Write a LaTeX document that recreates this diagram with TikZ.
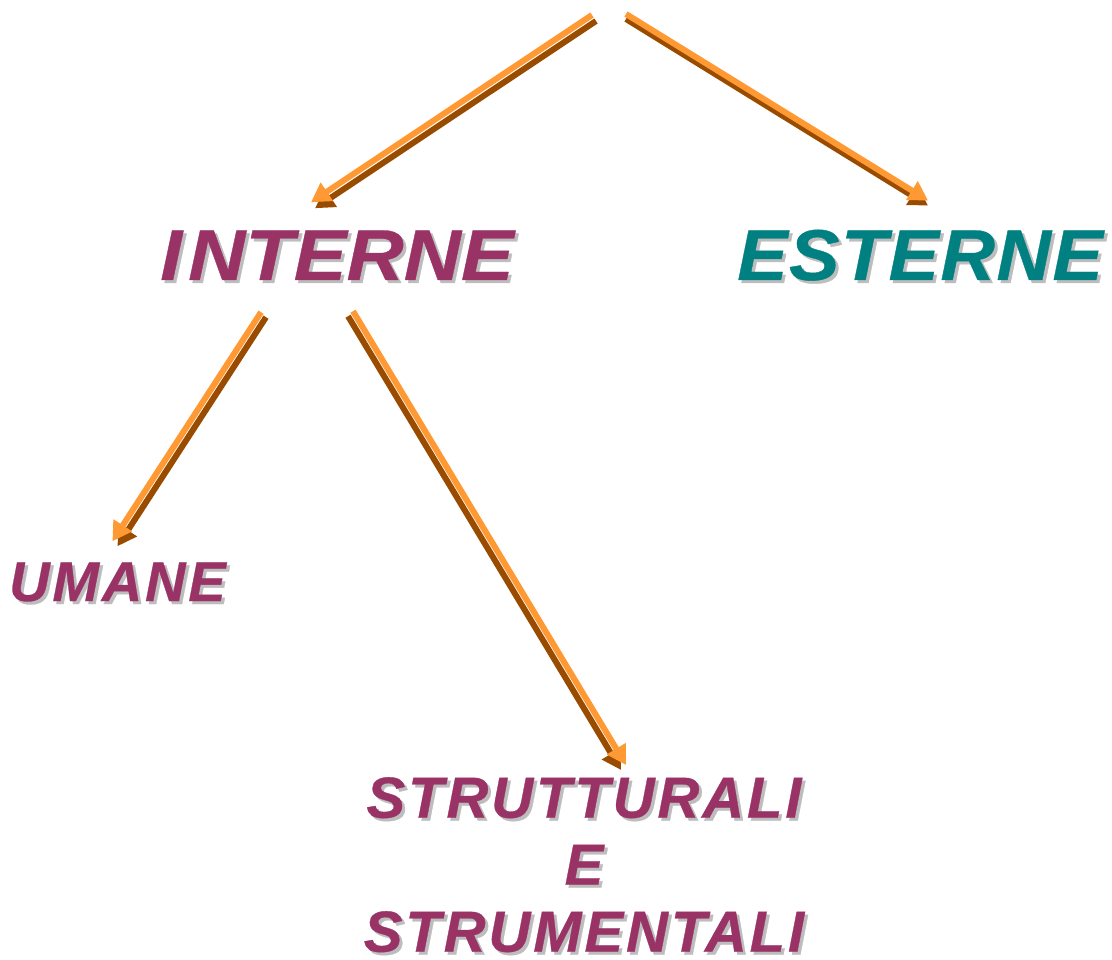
\documentclass[tikz,border=0pt]{standalone}
\usepackage{fontspec}
\setmainfont{Liberation Sans}
\newfontfamily\labelfont[LetterSpace=5, FakeBold=0.5]{Liberation Sans}
\newfontfamily\midlabelfont[FakeStretch=1.05, LetterSpace=2, FakeBold=0.5]{Liberation Sans}
\newfontfamily\widelabelfont[FakeStretch=1.1, FakeBold=0.5]{Liberation Sans}
\usetikzlibrary{calc,arrows.meta}
\definecolor{wine}{HTML}{993366}
\definecolor{petrol}{HTML}{008080}
\definecolor{tangerine}{HTML}{FF9933}
\definecolor{rust}{HTML}{994C00}
\definecolor{ghostgrey}{HTML}{BDBDBD}
\tikzset{
	lbl/.style 2 args={inner sep=0pt, align=center, font=#1\bfseries\itshape\fontsize{#2}{67}\selectfont},
	ray/.style={line width=6pt, draw=tangerine, -{Triangle[length=19pt,width=21pt]}}
}
\def\shadowlabel[#1](#2)(#3)#4{\node[#1, text=ghostgrey] at ($(#3)+(3,3)$) {#4}; \node[#1] (#2) at (#3) {#4};}
\def\shadowray(#1)(#2)(#3){\draw[ray, draw=rust, transform canvas={shift={(#3)}}] (#1) -- (#2); \draw[ray] (#1) -- (#2);}

\begin{document}
\begin{tikzpicture}[x=1pt, y=-1pt]
			%%%%% START %%%%%
			
			\useasboundingbox (0, 0) rectangle (1112, 960);
			
			\shadowlabel[lbl={\widelabelfont}{72}, anchor=base west, text=wine](interne)(160, 280){I\kern6pt NTERNE}
			\shadowlabel[lbl={\midlabelfont}{72}, anchor=base west, text=petrol](esterne)(737, 280){ESTERNE}
			\shadowlabel[lbl={\labelfont}{56}, anchor=base west, text=wine](umane)(9, 601){UMANE}
			\shadowlabel[lbl={\labelfont}{58}, anchor=north, text=wine](strutturali)(584, 777){STRUTTURALI\\E\\STRUMENTALI}
			
			\coordinate (origin l) at (592, 15);
			\coordinate (origin r) at (626, 14);
			
			\shadowray(origin l)($(interne.north)+(-26, -28)$)(4, 6)
			\shadowray(origin r)($(esterne.north)+(8, -29)$)(0, 5)
			\shadowray($(interne.south)+(-76, 32)$)($(umane.north)+(-5, -21)$)(5, 5)
			\shadowray($(interne.south)+(16, 31)$)($(strutturali.north)+(42, -12)$)(-5, 5)
			
			%%%%% END %%%%%
		\end{tikzpicture}
\end{document}
